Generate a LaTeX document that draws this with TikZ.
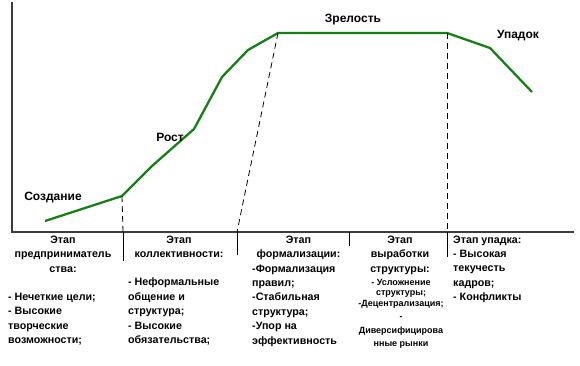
\documentclass[tikz,border=0pt]{standalone}
\usepackage{fontspec}
\setmainfont{Liberation Sans}
\definecolor{curvegreen}{RGB}{22,128,22}
\definecolor{axisgray}{RGB}{60,60,60}
\begin{document}
\begin{tikzpicture}[x=1pt,y=-1pt,
  every node/.style={inner sep=0pt},
  lbl/.style={font=\bfseries\fontsize{10.7}{14.5}\selectfont, anchor=base},
  lblw/.style={lbl, anchor=base west},
  stagelbl/.style={font=\bfseries\fontsize{12}{14}\selectfont, anchor=base},
  small/.style={font=\bfseries\fontsize{9}{12}\selectfont, anchor=base},
  axis/.style={draw=axisgray, line width=1.1pt},
  divider/.style={draw=black, line width=0.9pt},
  dashline/.style={draw=black, line width=0.8pt, dash pattern=on 6pt off 4pt},
  curve/.style={draw=curvegreen, line width=2.3pt, line join=round}]
\useasboundingbox (0,0) rectangle (580,366);
% axes
\coordinate (ytop) at (12,2);
\coordinate (orig) at (12,232);
\coordinate (xend) at (574,232);
\draw[axis] (ytop) -- (orig) -- (xend);
% curve points
\coordinate (p1) at (45,221);
\coordinate (p2) at (122,196);
\coordinate (p3) at (152,166);
\coordinate (p4) at (194,129);
\coordinate (p5) at (222,77);
\coordinate (p6) at (248,50);
\coordinate (p7) at (278,33);
\coordinate (p8) at (447,33);
\coordinate (p9) at (490,48);
\coordinate (p10) at (532,92);
\draw[curve] (p1) -- (p2) -- (p3) -- (p4) -- (p5) -- (p6) -- (p7) -- (p8) -- (p9) -- (p10);
% dividers
\coordinate (d1a) at (123,232); \coordinate (d1b) at (123,261);
\coordinate (d2a) at (237,232); \coordinate (d2b) at (237,255);
\coordinate (d3a) at (349,232); \coordinate (d3b) at (349,246);
\coordinate (d4a) at (447,232); \coordinate (d4b) at (447,257);
\draw[dashline] (p2) -- (d1a);
\draw[dashline] (p7) -- (d2a);
\draw[dashline] (p8) -- (d4a);
\draw[divider] (d1a) -- (d1b);
\draw[divider] (d2a) -- (d2b);
\draw[divider] (d3a) -- (d3b);
\draw[divider] (d4a) -- (d4b);
% stage labels on curve
\node[stagelbl] (sozd) at (53,200) {Создание};
\node[stagelbl] (rost) at (170,142) {Рост};
\node[stagelbl] (zrel) at (353,23) {Зрелость};
\node[stagelbl] (upad) at (518,39) {Упадок};
% column 1
\foreach \t [count=\i] in {Этап,предприниматель,ства:}
  \node[lbl] (ah\i) at (63,{243+14.5*(\i-1)}) {\t};
\foreach \t [count=\i] in {- Нечеткие цели;,- Высокие,творческие,возможности;}
  \node[lblw] (ab\i) at (8,{300+14.5*(\i-1)}) {\t};
% column 2
\foreach \t [count=\i] in {Этап,коллективности:}
  \node[lbl] (bh\i) at (179,{243+14.5*(\i-1)}) {\t};
\foreach \t [count=\i] in {- Неформальные,общение и,структура;,- Высокие,обязательства;}
  \node[lblw] (bb\i) at (128,{285.5+14.5*(\i-1)}) {\t};
% column 3
\foreach \t [count=\i] in {Этап,формализации:}
  \node[lbl] (ch\i) at (298.5,{243+14.5*(\i-1)}) {\t};
\foreach \t [count=\i] in {-Формализация,правил;,-Стабильная,структура;,-Упор на,эффективность}
  \node[lblw] (cb\i) at (252,{272+14.4*(\i-1)}) {\t};
% column 4
\foreach \t [count=\i] in {Этап,выработки,структуры:}
  \node[lbl] (dh\i) at (400,{243+14.5*(\i-1)}) {\t};
\foreach \t/\yy [count=\i] in {- Усложнение/285,структуры;/295.5,-Децентрализация;/306,-/319,Диверсифицирова/333,нные рынки/346}
  \node[small] (db\i) at (401,\yy) {\t};
% column 5
\foreach \t [count=\i] in {Этап упадка:,- Высокая,текучесть,кадров;,- Конфликты}
  \node[lblw] (eb\i) at (453,{243+14.4*(\i-1)}) {\t};
\end{tikzpicture}
\end{document}
